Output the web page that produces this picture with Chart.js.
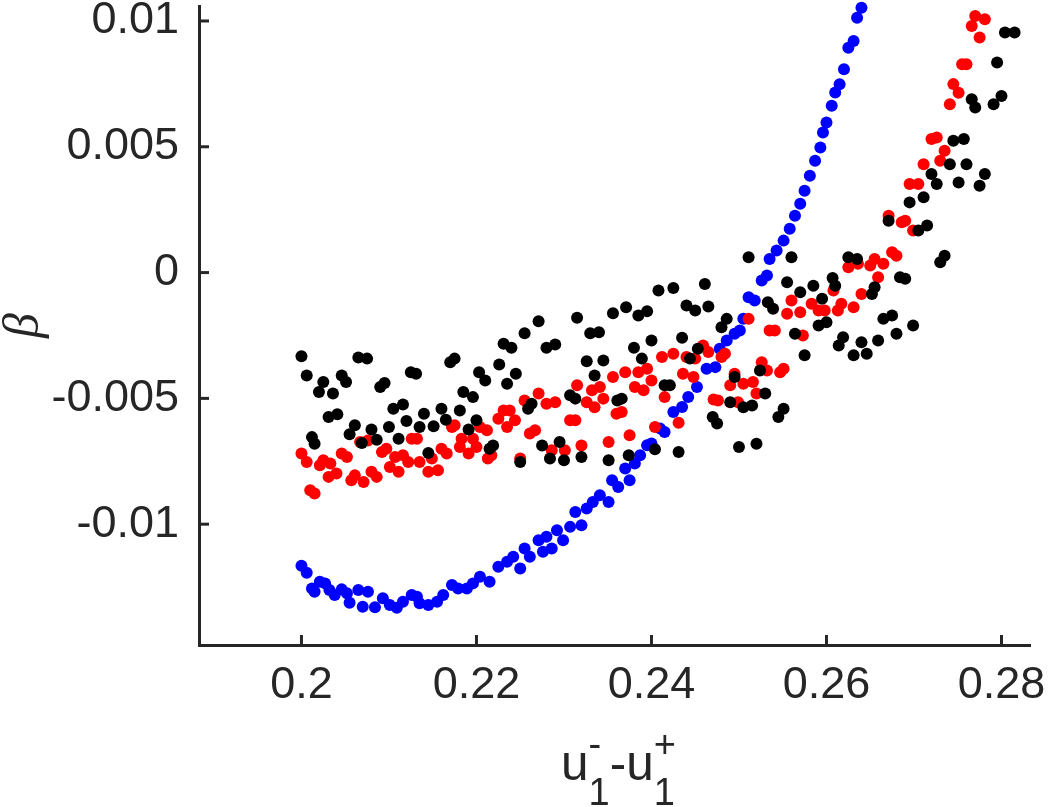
<!DOCTYPE html>
<html>
<head>
<meta charset="utf-8">
<script src="https://cdn.jsdelivr.net/npm/chart.js@4.4.0/dist/chart.umd.min.js"></script>
<style>
  html, body { margin: 0; padding: 0; background: #fff; }
  #wrap { width: 1048px; height: 807px; }
</style>
</head>
<body>
<div id="wrap"><canvas id="betaChart" width="1048" height="807"></canvas></div>
<script>
// values
const blueX = [0.2000,0.2006,0.2012,0.2015,0.2021,0.2027,0.2032,0.2038,0.2046,0.2052,0.2055,0.2065,0.2070,0.2076,0.2084,0.2093,0.2101,0.2109,0.2116,0.2126,0.2132,0.2135,0.2145,0.2155,0.2162,0.2172,0.2179,0.2189,0.2196,0.2204,0.2215,0.2225,0.2235,0.2242,0.2250,0.2255,0.2261,0.2271,0.2276,0.2280,0.2286,0.2292,0.2299,0.2307,0.2313,0.2320,0.2326,0.2333,0.2341,0.2351,0.2355,0.2362,0.2370,0.2375,0.2381,0.2387,0.2395,0.2400,0.2410,0.2415,0.2425,0.2435,0.2442,0.2452,0.2463,0.2473,0.2478,0.2486,0.2495,0.2501,0.2505,0.2511,0.2518,0.2526,0.2532,0.2535,0.2543,0.2551,0.2558,0.2564,0.2570,0.2575,0.2581,0.2587,0.2593,0.2596,0.2600,0.2606,0.2610,0.2615,0.2620,0.2625,0.2631,0.2635,0.2640];
const blueY = [-0.011655,-0.011933,-0.012552,-0.012687,-0.012290,-0.012353,-0.012619,-0.012817,-0.012591,-0.012750,-0.013123,-0.012619,-0.013282,-0.012687,-0.013306,-0.012948,-0.013214,-0.013321,-0.013083,-0.012817,-0.012885,-0.013147,-0.013214,-0.013083,-0.012817,-0.012421,-0.012552,-0.012552,-0.012353,-0.012091,-0.012290,-0.011694,-0.011496,-0.011298,-0.011758,-0.010964,-0.011298,-0.010635,-0.011099,-0.010504,-0.010964,-0.010238,-0.010635,-0.010107,-0.009512,-0.010040,-0.009377,-0.009115,-0.008849,-0.009115,-0.008254,-0.008520,-0.007790,-0.008254,-0.007591,-0.007262,-0.006865,-0.006798,-0.006202,-0.006337,-0.005544,-0.005345,-0.004948,-0.004552,-0.003821,-0.003758,-0.003028,-0.002698,-0.002433,-0.002302,-0.001837,-0.000980,-0.001111,-0.000317,-0.000119,0.000544,0.000873,0.001270,0.001746,0.002262,0.002738,0.003254,0.003849,0.004444,0.004972,0.005567,0.005964,0.006627,0.007155,0.007488,0.008083,0.008940,0.009206,0.010131,0.010528];

const redX = [0.2000,0.2006,0.2010,0.2015,0.2021,0.2025,0.2031,0.2033,0.2040,0.2046,0.2052,0.2057,0.2061,0.2067,0.2071,0.2076,0.2080,0.2086,0.2092,0.2097,0.2101,0.2107,0.2111,0.2116,0.2122,0.2126,0.2132,0.2135,0.2145,0.2149,0.2156,0.2160,0.2166,0.2172,0.2175,0.2181,0.2183,0.2191,0.2196,0.2200,0.2204,0.2212,0.2213,0.2217,0.2225,0.2231,0.2235,0.2238,0.2244,0.2250,0.2255,0.2261,0.2267,0.2271,0.2280,0.2286,0.2290,0.2301,0.2307,0.2313,0.2315,0.2320,0.2326,0.2332,0.2335,0.2341,0.2345,0.2351,0.2356,0.2360,0.2366,0.2370,0.2375,0.2381,0.2385,0.2391,0.2395,0.2400,0.2404,0.2412,0.2415,0.2425,0.2431,0.2436,0.2440,0.2448,0.2450,0.2459,0.2465,0.2471,0.2476,0.2480,0.2484,0.2490,0.2495,0.2499,0.2505,0.2511,0.2516,0.2520,0.2526,0.2532,0.2535,0.2541,0.2547,0.2551,0.2555,0.2560,0.2570,0.2573,0.2583,0.2591,0.2598,0.2608,0.2613,0.2617,0.2625,0.2631,0.2636,0.2640,0.2650,0.2655,0.2659,0.2665,0.2671,0.2675,0.2680,0.2686,0.2690,0.2695,0.2699,0.2705,0.2711,0.2720,0.2726,0.2730,0.2735,0.2741,0.2745,0.2751,0.2755,0.2760,0.2766,0.2770,0.2775,0.2781];
const redY = [-0.00719,-0.00753,-0.00865,-0.00878,-0.00766,-0.00746,-0.00812,-0.00759,-0.00799,-0.00719,-0.00733,-0.00825,-0.00806,-0.00673,-0.00832,-0.00667,-0.00792,-0.00812,-0.00713,-0.00700,-0.00773,-0.00733,-0.00792,-0.00726,-0.00753,-0.00660,-0.00660,-0.00753,-0.00792,-0.00739,-0.00786,-0.00700,-0.00719,-0.00614,-0.00607,-0.00693,-0.00660,-0.00719,-0.00660,-0.00693,-0.00614,-0.00627,-0.00739,-0.00726,-0.00581,-0.00548,-0.00614,-0.00548,-0.00587,-0.00739,-0.00508,-0.00640,-0.00627,-0.00481,-0.00521,-0.00706,-0.00515,-0.00706,-0.00587,-0.00587,-0.00448,-0.00687,-0.00515,-0.00468,-0.00535,-0.00455,-0.00501,-0.00673,-0.00415,-0.00561,-0.00554,-0.00396,-0.00647,-0.00455,-0.00396,-0.00468,-0.00382,-0.00429,-0.00614,-0.00336,-0.00495,-0.00323,-0.00597,-0.00402,-0.00336,-0.00415,-0.00342,-0.00290,-0.00316,-0.00504,-0.00508,-0.00336,-0.00323,-0.00448,-0.00402,-0.00515,-0.00442,-0.00184,-0.00435,-0.00481,-0.00356,-0.00389,-0.00230,-0.00230,-0.00396,-0.00382,-0.00164,-0.00111,-0.00158,-0.00250,-0.00124,-0.00151,-0.00151,-0.00071,-0.00151,-0.00124,0.00021,-0.00138,0.00035,-0.00085,0.00028,0.00054,-0.00019,0.00035,0.00226,0.00081,0.00067,0.00200,0.00206,0.00352,0.00167,0.00352,0.00431,0.00531,0.00537,0.00444,0.00484,0.00669,0.00749,0.00715,0.00828,0.00828,0.00980,0.01020,0.00934,0.01007];

const blackX = [0.2000,0.2006,0.2012,0.2015,0.2020,0.2025,0.2031,0.2036,0.2041,0.2046,0.2051,0.2055,0.2061,0.2065,0.2069,0.2075,0.2080,0.2086,0.2090,0.2095,0.2100,0.2105,0.2111,0.2116,0.2120,0.2125,0.2131,0.2135,0.2140,0.2145,0.2151,0.2160,0.2165,0.2170,0.2175,0.2181,0.2185,0.2191,0.2196,0.2200,0.2203,0.2210,0.2215,0.2219,0.2226,0.2231,0.2235,0.2240,0.2245,0.2250,0.2255,0.2259,0.2263,0.2271,0.2275,0.2280,0.2284,0.2290,0.2295,0.2300,0.2307,0.2313,0.2315,0.2320,0.2326,0.2330,0.2335,0.2340,0.2345,0.2351,0.2356,0.2361,0.2366,0.2371,0.2374,0.2380,0.2385,0.2389,0.2395,0.2400,0.2404,0.2408,0.2415,0.2421,0.2425,0.2431,0.2435,0.2440,0.2444,0.2450,0.2453,0.2461,0.2465,0.2470,0.2475,0.2480,0.2486,0.2490,0.2495,0.2500,0.2505,0.2511,0.2515,0.2520,0.2524,0.2530,0.2533,0.2539,0.2545,0.2551,0.2555,0.2560,0.2564,0.2570,0.2575,0.2585,0.2591,0.2595,0.2600,0.2607,0.2610,0.2614,0.2619,0.2625,0.2631,0.2635,0.2640,0.2646,0.2652,0.2655,0.2659,0.2665,0.2671,0.2675,0.2680,0.2684,0.2690,0.2695,0.2699,0.2705,0.2711,0.2715,0.2720,0.2726,0.2730,0.2735,0.2741,0.2745,0.2751,0.2757,0.2760,0.2766,0.2770,0.2775,0.2781,0.2791,0.2795,0.2800,0.2804,0.2815];
const blackY = [-0.00333,-0.00409,-0.00654,-0.00680,-0.00475,-0.00435,-0.00574,-0.00481,-0.00563,-0.00409,-0.00435,-0.00643,-0.00607,-0.00338,-0.00677,-0.00342,-0.00624,-0.00664,-0.00455,-0.00439,-0.00614,-0.00541,-0.00660,-0.00524,-0.00590,-0.00396,-0.00402,-0.00614,-0.00561,-0.00717,-0.00611,-0.00541,-0.00585,-0.00356,-0.00342,-0.00548,-0.00475,-0.00624,-0.00495,-0.00587,-0.00396,-0.00429,-0.00700,-0.00687,-0.00365,-0.00283,-0.00442,-0.00299,-0.00402,-0.00753,-0.00241,-0.00541,-0.00521,-0.00193,-0.00687,-0.00299,-0.00739,-0.00286,-0.00673,-0.00746,-0.00488,-0.00501,-0.00180,-0.00733,-0.00352,-0.00241,-0.00409,-0.00237,-0.00349,-0.00746,-0.00162,-0.00508,-0.00501,-0.00138,-0.00726,-0.00299,-0.00171,-0.00342,-0.00154,-0.00270,-0.00702,-0.00071,-0.00448,-0.00448,-0.00061,-0.00713,-0.00259,-0.00131,-0.00342,-0.00151,-0.00303,-0.00045,-0.00135,-0.00574,-0.00600,-0.00217,-0.00184,-0.00515,-0.00415,-0.00693,-0.00535,0.00061,-0.00528,-0.00680,-0.00389,-0.00481,-0.00118,-0.00144,-0.00574,-0.00541,-0.00038,0.00061,-0.00243,-0.00078,-0.00329,-0.00052,-0.00210,-0.00104,-0.00197,-0.00022,-0.00052,-0.00290,-0.00257,0.00061,-0.00329,0.00054,-0.00277,-0.00323,-0.00085,-0.00058,-0.00270,-0.00184,0.00206,-0.00171,-0.00243,-0.00019,-0.00025,0.00279,-0.00210,0.00167,0.00299,0.00187,0.00392,0.00352,0.00041,0.00067,0.00431,0.00524,0.00358,0.00531,0.00431,0.00689,0.00656,0.00345,0.00392,0.00669,0.00835,0.00702,0.00954,0.00954];

const xTicks = [0.2, 0.22, 0.24, 0.26, 0.28];
const xTickLabels = ['0.2', '0.22', '0.24', '0.26', '0.28'];
const yTicks = [-0.01, -0.005, 0, 0.005, 0.01];
const yTickLabels = ['-0.01', '-0.005', '0', '0.005', '0.01'];

const axisColor = '#262626';
const fontFamily = '"Liberation Sans", Arial, Helvetica, sans-serif';

const toPoints = (xs, ys) => xs.map((x, i) => ({ x: x, y: ys[i] }));
const labelFor = (list, labels, v) => {
    const i = list.findIndex(t => Math.abs(t - v) < 1e-9);
    return i < 0 ? '' : labels[i];
};

// MATLAB style inward ticks + the u1- - u1+ axis label
const axisDecor = {
    id: 'axisDecor',
    afterDraw(chart) {
        const { ctx, chartArea: ca, scales } = chart;
        ctx.save();
        ctx.strokeStyle = axisColor;
        ctx.lineWidth = 3;
        xTicks.forEach(v => {
            const p = scales.x.getPixelForValue(v);
            ctx.beginPath();
            ctx.moveTo(p, ca.bottom);
            ctx.lineTo(p, ca.bottom - 10);
            ctx.stroke();
        });
        yTicks.forEach(v => {
            const p = scales.y.getPixelForValue(v);
            ctx.beginPath();
            ctx.moveTo(ca.left, p);
            ctx.lineTo(ca.left + 10, p);
            ctx.stroke();
        });

        const mainFont = '49.5px ' + fontFamily;
        const scriptFont = '38px ' + fontFamily;
        const parts = [
            { text: 'u', sub: '1', sup: '-' },
            { text: '-' },
            { text: 'u', sub: '1', sup: '+' }
        ];
        let total = 0;
        parts.forEach(p => {
            ctx.font = mainFont;
            p.w = ctx.measureText(p.text).width;
            ctx.font = scriptFont;
            p.sw = p.sub ? Math.max(ctx.measureText(p.sub).width, ctx.measureText(p.sup).width) : 0;
            total += p.w + p.sw;
        });
        const base = ca.bottom + 135;
        let x = (ca.left + ca.right) / 2 + 4 - total / 2;
        ctx.fillStyle = axisColor;
        ctx.textAlign = 'left';
        ctx.textBaseline = 'alphabetic';
        parts.forEach(p => {
            ctx.font = mainFont;
            ctx.fillText(p.text, x, base);
            x += p.w;
            if (p.sub) {
                ctx.font = scriptFont;
                ctx.fillText(p.sub, x, base + 25);
                ctx.fillText(p.sup, x, base - 23);
                x += p.sw;
            }
        });
        ctx.restore();
    }
};

const pointStyle = color => ({
    backgroundColor: color,
    borderColor: color,
    pointRadius: 6,
    pointBorderWidth: 0,
    pointHoverRadius: 6,
    clip: false
});

new Chart(document.getElementById('betaChart'), {
    type: 'scatter',
    data: {
        datasets: [
            Object.assign({ label: 'black', data: toPoints(blackX, blackY) }, pointStyle('#000000')),
            Object.assign({ label: 'red', data: toPoints(redX, redY) }, pointStyle('#ff0000')),
            Object.assign({ label: 'blue', data: toPoints(blueX, blueY) }, pointStyle('#0000ff'))
        ]
    },
    options: {
        responsive: false,
        animation: false,
        devicePixelRatio: 1,
        layout: { padding: { top: 5, right: 18, left: 0, bottom: 0 } },
        plugins: {
            legend: { display: false },
            tooltip: { enabled: false }
        },
        scales: {
            x: {
                type: 'linear',
                min: 0.18829,
                max: 0.28326,
                afterBuildTicks: s => { s.ticks = xTicks.map(v => ({ value: v })); },
                afterFit: s => {
                    s.height = 162;
                    s.paddingLeft = 0;
                    s.paddingRight = 0;
                },
                grid: { display: false },
                border: { display: true, color: axisColor, width: 3 },
                ticks: {
                    color: axisColor,
                    padding: 6,
                    maxRotation: 0,
                    autoSkip: false,
                    font: { family: fontFamily, size: 45 },
                    callback: v => labelFor(xTicks, xTickLabels, v)
                }
            },
            y: {
                type: 'linear',
                min: -0.014802,
                max: 0.010595,
                afterBuildTicks: s => { s.ticks = yTicks.map(v => ({ value: v })); },
                afterFit: s => {
                    s.width = 199;
                    s.paddingTop = 0;
                    s.paddingBottom = 0;
                },
                grid: { display: false },
                border: { display: true, color: axisColor, width: 3 },
                title: {
                    display: true,
                    text: 'β',
                    color: axisColor,
                    font: { family: '"Liberation Serif", "DejaVu Serif", serif', style: 'italic', size: 50, lineHeight: 1.0 },
                    padding: { top: 0, bottom: 0 }
                },
                ticks: {
                    color: axisColor,
                    padding: 12,
                    autoSkip: false,
                    font: { family: fontFamily, size: 45 },
                    callback: v => labelFor(yTicks, yTickLabels, v)
                }
            }
        }
    },
    plugins: [axisDecor]
});
</script>
</body>
</html>
